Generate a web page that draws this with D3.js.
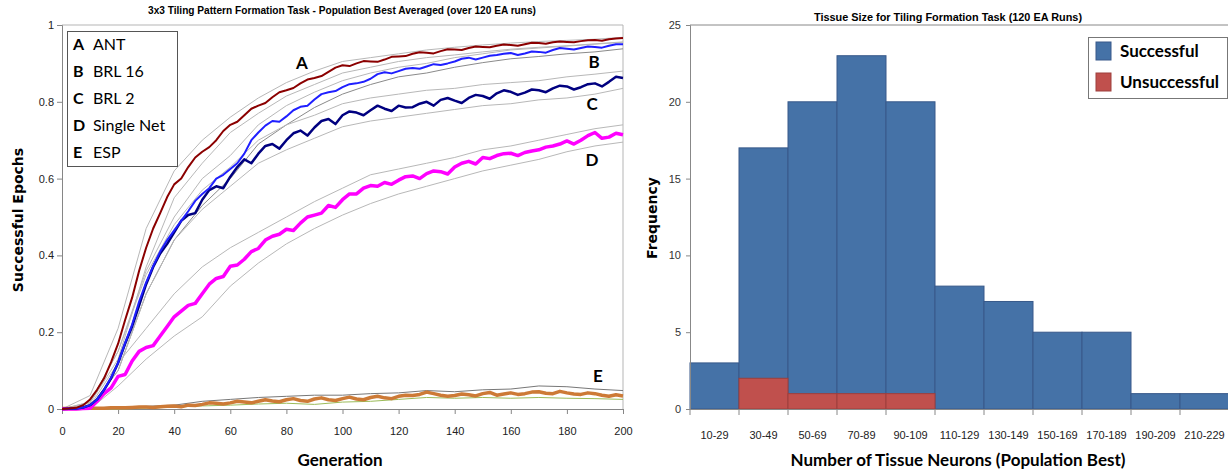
<!DOCTYPE html>
<html>
<head>
<meta charset="utf-8">
<script src="https://cdn.jsdelivr.net/npm/d3@7"></script>
<style>
  body { margin: 0; background: #fff; }
  svg { display: block; }
</style>
</head>
<body>
<script>
// Generations sampled every 2.5 for the main curves, every 10 for the bounds
const generations = d3.range(0, 200.1, 2.5);
const boundGenerations = d3.range(0, 201, 10);

const antValues = [0, 0.001, 0.003, 0.01, 0.025, 0.05, 0.08, 0.122, 0.17, 0.232, 0.29, 0.36, 0.42, 0.47, 0.51, 0.552, 0.585, 0.6, 0.63, 0.655, 0.67, 0.682, 0.70, 0.724, 0.74, 0.748, 0.765, 0.782, 0.79, 0.797, 0.812, 0.825, 0.83, 0.836, 0.848, 0.858, 0.862, 0.867, 0.878, 0.889, 0.895, 0.893, 0.90, 0.906, 0.905, 0.904, 0.91, 0.917, 0.918, 0.919, 0.925, 0.929, 0.928, 0.926, 0.932, 0.937, 0.936, 0.935, 0.94, 0.944, 0.943, 0.942, 0.946, 0.949, 0.948, 0.946, 0.95, 0.954, 0.953, 0.951, 0.955, 0.957, 0.956, 0.955, 0.958, 0.96, 0.961, 0.959, 0.963, 0.965, 0.966];
const brl16Values = [0, 0.0005, 0.001, 0.004, 0.01, 0.025, 0.05, 0.082, 0.12, 0.172, 0.22, 0.28, 0.33, 0.372, 0.41, 0.44, 0.465, 0.49, 0.515, 0.542, 0.56, 0.575, 0.60, 0.61, 0.625, 0.64, 0.665, 0.70, 0.72, 0.738, 0.75, 0.748, 0.762, 0.778, 0.787, 0.79, 0.806, 0.82, 0.825, 0.828, 0.838, 0.846, 0.848, 0.852, 0.86, 0.872, 0.877, 0.874, 0.88, 0.886, 0.888, 0.886, 0.892, 0.898, 0.896, 0.9, 0.905, 0.912, 0.915, 0.91, 0.915, 0.92, 0.922, 0.925, 0.927, 0.922, 0.926, 0.931, 0.93, 0.928, 0.935, 0.94, 0.938, 0.936, 0.94, 0.944, 0.943, 0.941, 0.946, 0.95, 0.95];
const brl2Values = [0, 0.0005, 0.001, 0.004, 0.01, 0.025, 0.05, 0.08, 0.12, 0.17, 0.215, 0.27, 0.325, 0.37, 0.405, 0.43, 0.46, 0.49, 0.505, 0.51, 0.545, 0.57, 0.58, 0.575, 0.605, 0.63, 0.65, 0.64, 0.665, 0.685, 0.69, 0.678, 0.70, 0.718, 0.725, 0.712, 0.733, 0.75, 0.755, 0.742, 0.765, 0.775, 0.772, 0.765, 0.778, 0.79, 0.782, 0.776, 0.79, 0.785, 0.786, 0.795, 0.80, 0.79, 0.805, 0.81, 0.803, 0.797, 0.81, 0.818, 0.815, 0.808, 0.822, 0.83, 0.826, 0.818, 0.824, 0.832, 0.83, 0.825, 0.835, 0.842, 0.84, 0.832, 0.838, 0.846, 0.848, 0.84, 0.852, 0.865, 0.862];
const singleNetValues = [0, 0, 0, 0.001, 0.002, 0.02, 0.04, 0.055, 0.085, 0.09, 0.125, 0.15, 0.16, 0.165, 0.19, 0.215, 0.24, 0.255, 0.27, 0.275, 0.30, 0.325, 0.34, 0.345, 0.372, 0.375, 0.39, 0.41, 0.418, 0.44, 0.45, 0.455, 0.468, 0.465, 0.484, 0.5, 0.505, 0.51, 0.53, 0.525, 0.545, 0.56, 0.56, 0.575, 0.582, 0.58, 0.59, 0.585, 0.596, 0.605, 0.607, 0.6, 0.613, 0.62, 0.618, 0.612, 0.63, 0.64, 0.645, 0.638, 0.655, 0.652, 0.66, 0.665, 0.666, 0.66, 0.668, 0.672, 0.675, 0.682, 0.685, 0.69, 0.698, 0.69, 0.70, 0.712, 0.72, 0.705, 0.708, 0.718, 0.714];
const espValues = [0.001, 0.001, 0.001, 0.002, 0.002, 0.002, 0.002, 0.003, 0.003, 0.003, 0.004, 0.005, 0.005, 0.004, 0.006, 0.007, 0.008, 0.006, 0.01, 0.009, 0.012, 0.016, 0.015, 0.013, 0.016, 0.02, 0.018, 0.016, 0.02, 0.024, 0.021, 0.019, 0.024, 0.027, 0.022, 0.02, 0.026, 0.029, 0.024, 0.022, 0.027, 0.031, 0.026, 0.024, 0.03, 0.033, 0.029, 0.027, 0.033, 0.036, 0.035, 0.038, 0.044, 0.04, 0.036, 0.033, 0.035, 0.039, 0.037, 0.034, 0.04, 0.043, 0.036, 0.039, 0.042, 0.038, 0.04, 0.044, 0.045, 0.041, 0.04, 0.046, 0.042, 0.039, 0.038, 0.042, 0.04, 0.036, 0.033, 0.037, 0.034];

const antHigh = [0, 0.035, 0.21, 0.47, 0.62, 0.70, 0.76, 0.81, 0.85, 0.88, 0.905, 0.915, 0.925, 0.935, 0.942, 0.948, 0.953, 0.957, 0.96, 0.963, 0.968];
const antLow = [0, 0.015, 0.13, 0.37, 0.55, 0.64, 0.72, 0.77, 0.815, 0.845, 0.875, 0.89, 0.905, 0.915, 0.922, 0.93, 0.937, 0.942, 0.946, 0.951, 0.956];
const brl16High = [0, 0.018, 0.15, 0.36, 0.50, 0.60, 0.66, 0.74, 0.79, 0.825, 0.855, 0.875, 0.89, 0.90, 0.915, 0.925, 0.935, 0.94, 0.945, 0.95, 0.955];
const brl16Low = [0, 0.005, 0.10, 0.30, 0.44, 0.53, 0.60, 0.69, 0.74, 0.785, 0.82, 0.845, 0.865, 0.875, 0.89, 0.902, 0.912, 0.918, 0.925, 0.93, 0.938];
const brl2High = [0, 0.018, 0.15, 0.35, 0.48, 0.57, 0.63, 0.70, 0.74, 0.765, 0.795, 0.81, 0.82, 0.83, 0.835, 0.845, 0.85, 0.855, 0.865, 0.872, 0.88];
const brl2Low = [0, 0.005, 0.10, 0.30, 0.44, 0.52, 0.58, 0.64, 0.675, 0.705, 0.735, 0.75, 0.76, 0.77, 0.78, 0.79, 0.795, 0.805, 0.81, 0.82, 0.835];
const singleNetHigh = [0, 0.008, 0.12, 0.21, 0.30, 0.37, 0.42, 0.46, 0.50, 0.54, 0.575, 0.61, 0.625, 0.64, 0.655, 0.675, 0.685, 0.70, 0.715, 0.73, 0.74];
const singleNetLow = [0, 0, 0.06, 0.13, 0.19, 0.24, 0.32, 0.38, 0.43, 0.47, 0.505, 0.535, 0.56, 0.58, 0.60, 0.62, 0.635, 0.65, 0.67, 0.685, 0.695];
const espHigh = [0.002, 0.003, 0.005, 0.007, 0.01, 0.02, 0.025, 0.03, 0.033, 0.036, 0.036, 0.04, 0.042, 0.048, 0.045, 0.05, 0.052, 0.06, 0.058, 0.052, 0.048];
const espLow = [0, 0, 0, 0.002, 0.005, 0.008, 0.01, 0.013, 0.015, 0.012, 0.018, 0.02, 0.025, 0.03, 0.028, 0.03, 0.028, 0.03, 0.028, 0.027, 0.025];

const legendKeys = ["A", "B", "C", "D", "E"];
const legendNames = ["ANT", "BRL 16", "BRL 2", "Single Net", "ESP"];

// Histogram data
const bins = ["10-29", "30-49", "50-69", "70-89", "90-109", "110-129", "130-149", "150-169", "170-189", "190-209", "210-229"];
const successful = [3, 17, 20, 23, 20, 8, 7, 5, 5, 1, 1];
const unsuccessful = [0, 2, 1, 1, 1, 0, 0, 0, 0, 0, 0];

const width = 1228;
const height = 472;
const narrow = "'Liberation Sans Narrow', Arial, sans-serif";
const calib = "Lato, 'Open Sans', sans-serif";

const svg = d3.select("body")
  .append("svg")
  .attr("width", width)
  .attr("height", height);

// ---------- left: line chart ----------
const x = d3.scaleLinear().domain([0, 200]).range([62, 623]);
const y = d3.scaleLinear().domain([0, 1]).range([409, 25]);

const left = svg.append("g");

// plot area border (top and right)
left.append("path")
  .attr("d", `M${x(0)},${y(1)}H${x(200)}V${y(0)}`)
  .attr("fill", "none")
  .attr("stroke", "#b5b5b5");

const xAxis = left.append("g")
  .attr("transform", `translate(0,${y(0)})`)
  .call(d3.axisBottom(x).tickValues(d3.range(0, 201, 20)).tickSize(5).tickPadding(13));
const yAxis = left.append("g")
  .attr("transform", `translate(${x(0)},0)`)
  .call(d3.axisLeft(y).tickValues([0, 0.2, 0.4, 0.6, 0.8, 1]).tickSize(5).tickFormat(d3.format("~g")).tickPadding(3));

[xAxis, yAxis].forEach(a => {
  a.selectAll("path, line").attr("stroke", "#868686");
  a.selectAll("text").attr("font-family", narrow).attr("font-size", 11).attr("fill", "#222");
});

const line = d3.line().x(d => x(d[0])).y(d => y(d[1]));
const pair = (gs, vs) => gs.map((g, i) => [g, vs[i]]);

const bounds = [
  [antHigh, "#b8b8b8"], [antLow, "#b8b8b8"],
  [brl16High, "#b8b8b8"], [brl16Low, "#8a8a8a"],
  [brl2High, "#b8b8b8"], [brl2Low, "#b8b8b8"],
  [singleNetHigh, "#b8b8b8"], [singleNetLow, "#b8b8b8"],
  [espHigh, "#777"], [espLow, "#9bbb59"]
];
bounds.forEach(([vs, c]) => {
  left.append("path")
    .attr("d", line(pair(boundGenerations, vs)))
    .attr("fill", "none")
    .attr("stroke", c)
    .attr("stroke-width", 1);
});

const series = [
  [espValues, "#cd7a36", 3.5],
  [singleNetValues, "#ff00ff", 3.5],
  [brl2Values, "#000080", 2.5],
  [brl16Values, "#1f1fff", 2],
  [antValues, "#8b0000", 2]
];
series.forEach(([vs, c, w]) => {
  left.append("path")
    .attr("d", line(pair(generations, vs)))
    .attr("fill", "none")
    .attr("stroke", c)
    .attr("stroke-width", w)
    .attr("stroke-linejoin", "round");
});

// curve letters
const curveLabels = [["A", 302, 69], ["B", 594, 68], ["C", 592, 110], ["D", 592, 166], ["E", 598, 382]];
curveLabels.forEach(([t, lx, ly]) => {
  left.append("text")
    .attr("x", lx).attr("y", ly)
    .attr("text-anchor", "middle")
    .attr("font-family", calib)
    .attr("font-weight", "bold")
    .attr("font-size", 17)
    .text(t);
});

// legend
left.append("rect")
  .attr("x", 67.5).attr("y", 31.5)
  .attr("width", 110).attr("height", 135)
  .attr("fill", "#fff")
  .attr("stroke", "#555");

const leg = left.selectAll(".leg")
  .data(legendKeys)
  .enter()
  .append("g")
  .attr("transform", (d, i) => `translate(0, ${50 + i * 27})`);
leg.append("text")
  .attr("x", 73)
  .attr("font-family", calib).attr("font-weight", "bold").attr("font-size", 16)
  .text(d => d);
leg.append("text")
  .attr("x", 93)
  .attr("font-family", calib).attr("font-size", 16)
  .text((d, i) => legendNames[i]);

left.append("text")
  .attr("x", 342).attr("y", 14)
  .attr("text-anchor", "middle")
  .attr("font-family", narrow).attr("font-weight", "bold").attr("font-size", 11)
  .attr("textLength", 388).attr("lengthAdjust", "spacingAndGlyphs")
  .text("3x3 Tiling Pattern Formation Task - Population Best Averaged (over 120 EA runs)");

left.append("text")
  .attr("x", 340).attr("y", 466)
  .attr("text-anchor", "middle")
  .attr("font-family", calib).attr("font-weight", "bold").attr("font-size", 17)
  .text("Generation");

left.append("text")
  .attr("transform", "translate(23,220) rotate(-90)")
  .attr("text-anchor", "middle")
  .attr("font-family", "'DejaVu Sans', sans-serif").attr("font-weight", "bold").attr("font-size", 14)
  .text("Successful Epochs");

// ---------- right: histogram ----------
const xb = d3.scaleBand().domain(bins).range([690, 1229]).padding(0);
const yb = d3.scaleLinear().domain([0, 25]).range([409, 25]);

const right = svg.append("g");

right.append("line")
  .attr("x1", 690).attr("x2", 1228)
  .attr("y1", yb(25)).attr("y2", yb(25))
  .attr("stroke", "#888");

right.selectAll(".ok")
  .data(bins)
  .enter()
  .append("rect")
  .attr("x", d => xb(d))
  .attr("y", (d, i) => yb(successful[i]))
  .attr("width", xb.bandwidth())
  .attr("height", (d, i) => yb(0) - yb(successful[i]))
  .attr("fill", "#4572a7")
  .attr("stroke", "#38598a")
  .attr("stroke-width", 1);

right.selectAll(".bad")
  .data(bins.filter((d, i) => unsuccessful[i] > 0))
  .enter()
  .append("rect")
  .attr("x", d => xb(d))
  .attr("y", d => yb(unsuccessful[bins.indexOf(d)]))
  .attr("width", xb.bandwidth())
  .attr("height", d => yb(0) - yb(unsuccessful[bins.indexOf(d)]))
  .attr("fill", "#c0504d")
  .attr("stroke", "#9d3f3c")
  .attr("stroke-width", 1);

const ybAxis = right.append("g")
  .attr("transform", "translate(690,0)")
  .call(d3.axisLeft(yb).tickValues([0, 5, 10, 15, 20, 25]).tickSize(4).tickPadding(5));
ybAxis.selectAll("path, line").attr("stroke", "#888");
ybAxis.selectAll("text").attr("font-family", narrow).attr("font-size", 11).attr("fill", "#333");

const xbAxis = right.append("g")
  .attr("transform", `translate(0,${yb(0)})`)
  .call(d3.axisBottom(xb).tickSize(0).tickPadding(22));
xbAxis.select(".domain").attr("stroke", "#888");
xbAxis.selectAll("text").attr("font-family", narrow).attr("font-size", 11).attr("fill", "#222");

// tick marks on bin edges
right.selectAll(".edge")
  .data(bins)
  .enter()
  .append("line")
  .attr("x1", d => xb(d)).attr("x2", d => xb(d))
  .attr("y1", yb(0)).attr("y2", yb(0) + 6)
  .attr("stroke", "#888");

right.append("text")
  .attr("x", 948).attr("y", 21)
  .attr("text-anchor", "middle")
  .attr("font-family", narrow).attr("font-weight", "bold").attr("font-size", 11)
  .attr("textLength", 268).attr("lengthAdjust", "spacingAndGlyphs")
  .text("Tissue Size for Tiling Formation Task (120 EA Runs)");

right.append("text")
  .attr("x", 958).attr("y", 466)
  .attr("text-anchor", "middle")
  .attr("font-family", calib).attr("font-weight", "bold").attr("font-size", 17)
  .text("Number of Tissue Neurons (Population Best)");

right.append("text")
  .attr("transform", "translate(657,218) rotate(-90)")
  .attr("text-anchor", "middle")
  .attr("font-family", "'DejaVu Sans', sans-serif").attr("font-weight", "bold").attr("font-size", 14)
  .text("Frequency");

// legend
right.append("rect")
  .attr("x", 1088.5).attr("y", 37.5)
  .attr("width", 139).attr("height", 61)
  .attr("fill", "#fff")
  .attr("stroke", "#777");

const legendItems = [["Successful", "#4572a7", "#38598a"], ["Unsuccessful", "#c0504d", "#9d3f3c"]];
const rleg = right.selectAll(".rleg")
  .data(legendItems)
  .enter()
  .append("g")
  .attr("transform", (d, i) => `translate(1096, ${42 + i * 31})`);
rleg.append("rect")
  .attr("width", 15).attr("height", 18)
  .attr("fill", d => d[1])
  .attr("stroke", d => d[2]);
rleg.append("text")
  .attr("x", 24).attr("y", 15)
  .attr("font-family", calib).attr("font-weight", "bold").attr("font-size", 17)
  .text(d => d[0]);
</script>
</body>
</html>
